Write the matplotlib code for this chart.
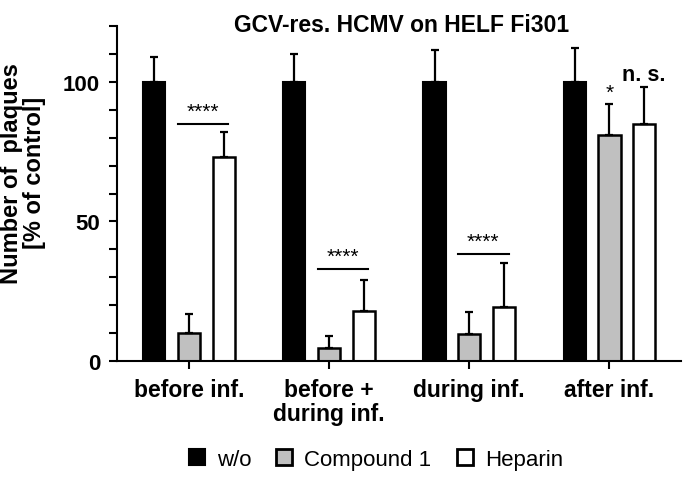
import numpy as np
import matplotlib
matplotlib.use('Agg')
import matplotlib.pyplot as plt
from matplotlib.lines import Line2D

plt.rcParams['font.family'] = ['Liberation Sans', 'DejaVu Sans']

# Data
groups = ['before inf.', 'before +\nduring inf.', 'during inf.', 'after inf.']
wo = [100, 100, 100, 100]
wo_err = [9, 10, 11.5, 12]
comp = [10, 4.8, 9.5, 81]
comp_err = [7, 4.2, 8, 11]
hep = [73, 18, 19.5, 85]
hep_err = [9, 11, 15.5, 13]

# significance bars: (group, height, label)
sig_groups = [0, 1, 2]
sig_heights = [85, 33, 38.5]
sig_labels = ['****', '****', '****']

fig = plt.figure(figsize=(6.83, 4.85), dpi=100)
ax = fig.add_axes([0.171, 0.2536, 0.826, 0.6906])

x = np.arange(len(groups))
off = 0.248
w = 0.158
err_kw = dict(ecolor='black', elinewidth=1.6, capsize=3, capthick=1.6)

ax.bar(x - off, wo, w, color='black', edgecolor='black', linewidth=1.5,
       yerr=[np.zeros(4), wo_err], error_kw=err_kw)
ax.bar(x, comp, w, color='#c0c0c0', edgecolor='black', linewidth=1.8,
       yerr=[np.zeros(4), comp_err], error_kw=err_kw)
ax.bar(x + off, hep, w, color='white', edgecolor='black', linewidth=1.8,
       yerr=[np.zeros(4), hep_err], error_kw=err_kw)

# significance markers
for g, h, lab in zip(sig_groups, sig_heights, sig_labels):
    ax.plot([g - 0.08, g + 0.28], [h, h], color='black', lw=1.5)
    ax.text(g + 0.1, h + 1, lab, ha='center', va='bottom', fontsize=15)
ax.text(3, 93, '*', ha='center', va='bottom', fontsize=15)
ax.text(3 + off, 99, 'n. s.', ha='center', va='bottom', fontsize=15.5,
        fontweight='bold')

ax.set_xlim(-0.515, 3.51)
ax.set_ylim(0, 120)
ax.set_xticks(x)
ax.set_xticklabels(groups, fontsize=16.5, fontweight='bold', linespacing=1.1)
ax.set_yticks(range(0, 121, 10))
ax.set_yticklabels(['0', '', '', '', '', '50', '', '', '', '', '100', '', ''],
                   fontsize=16, fontweight='bold')
ax.tick_params(direction='out', length=6, width=1.5, pad=6)
ax.spines['top'].set_visible(False)
ax.spines['right'].set_visible(False)
ax.spines['left'].set_linewidth(1.5)
ax.spines['bottom'].set_linewidth(1.5)

# y label placed in figure coordinates
fig.text(0.034, 0.643, 'Number of  plaques\n[% of control]', fontsize=17,
         fontweight='bold', linespacing=1.0, rotation=90, ha='center',
         va='center', multialignment='center')
fig.text(0.5886, 0.934, 'GCV-res. HCMV on HELF Fi301', fontsize=16.5,
         fontweight='bold', ha='center', va='baseline')

handles = [
    Line2D([], [], marker='s', ls='', markersize=11, markerfacecolor='black',
           markeredgecolor='black', markeredgewidth=1.5),
    Line2D([], [], marker='s', ls='', markersize=11, markerfacecolor='#c0c0c0',
           markeredgecolor='black', markeredgewidth=2),
    Line2D([], [], marker='s', ls='', markersize=11, markerfacecolor='white',
           markeredgecolor='black', markeredgewidth=2),
]
fig.legend(handles, ['w/o', 'Compound 1', 'Heparin'], loc='center',
           bbox_to_anchor=(0.548, 0.051), ncol=3, frameon=False, fontsize=16,
           handletextpad=0.4, columnspacing=1.0, handlelength=1.0)

fig.savefig('out.png', dpi=100)
